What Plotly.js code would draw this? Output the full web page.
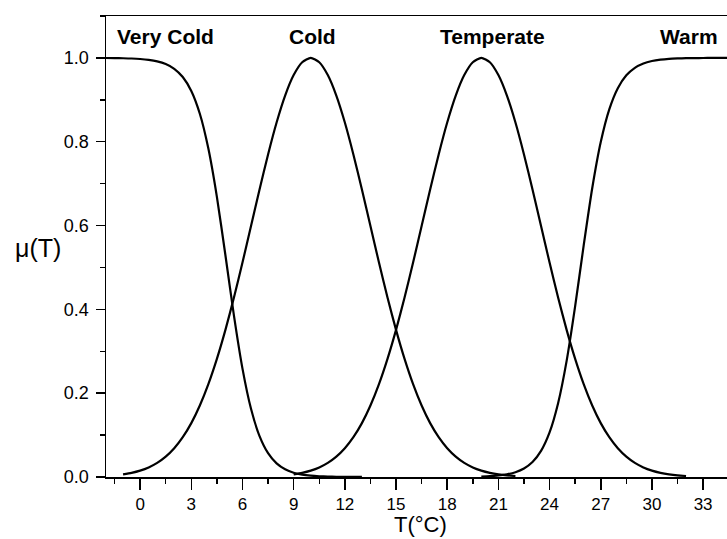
<!DOCTYPE html>
<html>
<head>
<meta charset="utf-8">
<script src="https://cdn.plot.ly/plotly-3.0.1.min.js"></script>
<style>html,body{margin:0;padding:0;background:#fff}#chart{width:727px;height:539px}</style>
</head>
<body>
<div id="chart"></div>
<script>
// Membership values (T in °C, step 0.5)
const tVeryCold = [-2,-1.5,-1,-0.5,0,0.5,1,1.5,2,2.5,3,3.5,4,4.5,5,5.5,6,6.5,7,7.5,8,8.5,9,9.5,10,10.5,11,11.5,12,12.5,13];
const muVeryCold = [0.9998,0.9996,0.9992,0.9986,0.9974,0.9954,0.9918,0.9854,0.9741,0.9544,0.9211,0.8667,0.7836,0.6686,0.5292,0.3851,0.2587,0.1627,0.0977,0.0569,0.0325,0.0184,0.0103,0.0058,0.0032,0.0018,0.0010,0.0006,0.0003,0.0002,0.0001];

const tCold = [-1,-0.5,0,0.5,1,1.5,2,2.5,3,3.5,4,4.5,5,5.5,6,6.5,7,7.5,8,8.5,9,9.5,10,10.5,11,11.5,12,12.5,13,13.5,14,14.5,15,15.5,16,16.5,17,17.5,18,18.5,19,19.5,20,20.5,21,21.5,22];
const muCold = [0.0063,0.0099,0.0152,0.0228,0.0336,0.0485,0.0686,0.0949,0.1285,0.1705,0.2215,0.2818,0.3510,0.4283,0.5117,0.5987,0.6860,0.7697,0.8458,0.9101,0.9590,0.9896,1.0,0.9896,0.9590,0.9101,0.8458,0.7697,0.6860,0.5987,0.5117,0.4283,0.3510,0.2818,0.2215,0.1705,0.1285,0.0949,0.0686,0.0485,0.0336,0.0228,0.0152,0.0099,0.0063,0.0039,0.0024];

const tTemperate = [9,9.5,10,10.5,11,11.5,12,12.5,13,13.5,14,14.5,15,15.5,16,16.5,17,17.5,18,18.5,19,19.5,20,20.5,21,21.5,22,22.5,23,23.5,24,24.5,25,25.5,26,26.5,27,27.5,28,28.5,29,29.5,30,30.5,31,31.5,32];
const muTemperate = [0.0063,0.0099,0.0152,0.0228,0.0336,0.0485,0.0686,0.0949,0.1285,0.1705,0.2215,0.2818,0.3510,0.4283,0.5117,0.5987,0.6860,0.7697,0.8458,0.9101,0.9590,0.9896,1.0,0.9896,0.9590,0.9101,0.8458,0.7697,0.6860,0.5987,0.5117,0.4283,0.3510,0.2818,0.2215,0.1705,0.1285,0.0949,0.0686,0.0485,0.0336,0.0228,0.0152,0.0099,0.0063,0.0039,0.0024];

const tWarm = [20,20.5,21,21.5,22,22.5,23,23.5,24,24.5,25,25.5,26,26.5,27,27.5,28,28.5,29,29.5,30,30.5,31,31.5,32,32.5,33,33.5,34,34.5];
const muWarm = [0.0011,0.0020,0.0035,0.0063,0.0113,0.0202,0.0356,0.0622,0.1063,0.1760,0.2771,0.4076,0.5526,0.6891,0.7992,0.8772,0.9277,0.9584,0.9764,0.9867,0.9925,0.9958,0.9977,0.9987,0.9993,0.9996,0.9998,0.9999,0.9999,1.0];

const setNames = ['Very Cold','Cold','Temperate','Warm'];
const labelX = [1.46, 10.08, 20.68, 32.16];
const xTicks = [0,3,6,9,12,15,18,21,24,27,30,33];
const yTicks = [0,0.2,0.4,0.6,0.8,1.0];

const FONT = 'Arial, "Liberation Sans", Helvetica, sans-serif';
const line = {color:'#000', width:2.2, shape:'spline', smoothing:0.6};
const series = [[tVeryCold,muVeryCold],[tCold,muCold],[tTemperate,muTemperate],[tWarm,muWarm]];
const traces = series.map((s,i)=>({x:s[0], y:s[1], mode:'lines', line:line, name:setNames[i], hoverinfo:'skip'}));

const annotations = setNames.map((n,i)=>({
  text:'<b>'+n+'</b>', x:labelX[i], y:1.05, xref:'x', yref:'y',
  xanchor:'center', yanchor:'middle', showarrow:false,
  font:{family:FONT, size:21, color:'#000'}
}));
annotations.push({text:'T(°C)', x:0.506, y:-0.102, xref:'paper', yref:'paper', xanchor:'center', yanchor:'middle', showarrow:false, font:{family:FONT,size:22,color:'#000'}});
annotations.push({text:'μ(T)', x:-0.11, y:0.497, xref:'paper', yref:'paper', xanchor:'center', yanchor:'middle', showarrow:false, font:{family:FONT,size:25,color:'#000'}});

const layout = {
  width:727, height:539,
  margin:{l:106, r:0, t:16, b:62, pad:0},
  paper_bgcolor:'#fff', plot_bgcolor:'#fff',
  showlegend:false,
  font:{family:FONT, color:'#000'},
  xaxis:{
    range:[-2,34.4], showgrid:false, zeroline:false,
    showline:true, linecolor:'#000', linewidth:1.5, mirror:true,
    ticks:'outside', ticklen:11, tickwidth:1.5, tickcolor:'#000',
    tickvals:xTicks, ticktext:xTicks.map(String),
    tickfont:{family:FONT, size:17, color:'#000'},
    minor:{tick0:0, dtick:1.5, ticks:'outside', ticklen:5, tickwidth:1.5, tickcolor:'#000', showgrid:false}
  },
  yaxis:{
    range:[0,1.1], showgrid:false, zeroline:false,
    showline:true, linecolor:'#000', linewidth:1.5,
    ticks:'outside', ticklen:9, tickwidth:1.5, tickcolor:'#000',
    ticklabelstandoff:3,
    tickvals:yTicks, ticktext:yTicks.map(v=>v.toFixed(1)),
    tickfont:{family:FONT, size:18, color:'#000'},
    minor:{tick0:0, dtick:0.1, ticks:'outside', ticklen:5, tickwidth:1.5, tickcolor:'#000', showgrid:false}
  },
  annotations:annotations
};

Plotly.newPlot('chart', traces, layout, {staticPlot:true, displayModeBar:false});
</script>
</body>
</html>
